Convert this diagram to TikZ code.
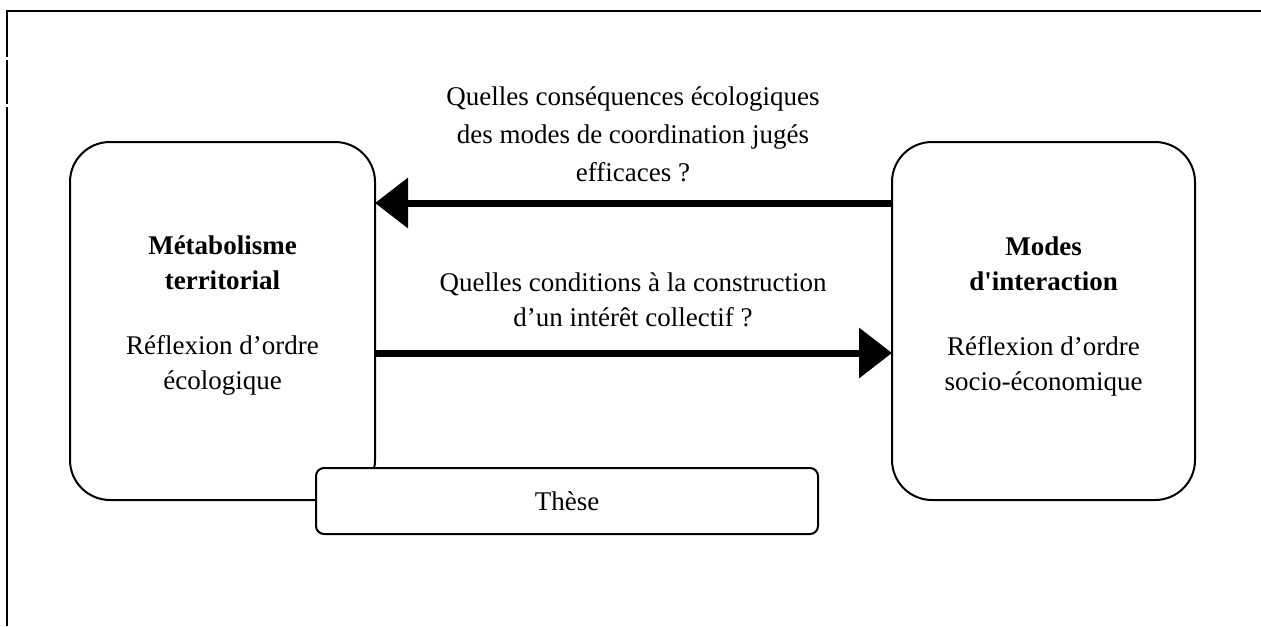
\documentclass[tikz,border=0pt]{standalone}
\usepackage{fontspec}
\setmainfont{Liberation Serif}
\usetikzlibrary{arrows.meta}
\newcommand\mlines[2]{\fontsize{13.5pt}{#1}\selectfont\setlength\tabcolsep{0pt}\begin{tabular}[t]{c}#2\end{tabular}}
\begin{document}
\begin{tikzpicture}[x=0.5pt,y=-0.5pt,
  frameline/.style={line width=1.25pt},
  bigbox/.style={draw, line width=1pt, rounded corners=20pt, minimum height=179pt, inner sep=0pt, outer sep=0pt},
  thesisbox/.style={draw, fill=white, line width=1pt, rounded corners=4pt, minimum width=251pt, minimum height=33pt, inner sep=0pt, outer sep=0pt, font=\fontsize{13.5pt}{16pt}\selectfont},
  label/.style={anchor=base, inner sep=0pt},
  bigarrow/.style={line width=3.5pt, -{Triangle[length=16.5pt 0 0,width=24.5pt 0 0]}}]
\useasboundingbox (0,0) rectangle (1261,626);
% frame
\draw[frameline] (7,626) -- (7,107);
\draw[frameline] (7,104) -- (7,60);
\draw[frameline] (7,57) -- (7,11) -- (1261,11);
% boxes
\node[bigbox, minimum width=152.5pt] (lbox) at (222.5,321) {};
\node[bigbox, minimum width=151.5pt] (rbox) at (1043.5,321) {};
\node[thesisbox] (these) at (567,501) {Thèse};
% box texts
\node[label] (ltext) at (222.5,254) {\mlines{17.5pt}{\textbf{Métabolisme}\\ \textbf{territorial}\\[15pt] Réflexion d’ordre\\ écologique}};
\node[label] (rtext) at (1043.5,255) {\mlines{17.5pt}{\textbf{Modes}\\ \textbf{d\textquotesingle interaction}\\[15pt] Réflexion d’ordre\\ socio-économique}};
% arrows
\coordinate (ya) at (0,203);
\coordinate (yb) at (0,353);
\draw[bigarrow] (rbox.west |- ya) -- (lbox.east |- ya);
\draw[bigarrow] (lbox.east |- yb) -- (rbox.west |- yb);
% arrow labels
\node[label] (q1) at (633,105) {\mlines{19pt}{Quelles conséquences écologiques\\ des modes de coordination jugés\\ efficaces ?}};
\node[label] (q2) at (633,291) {\mlines{17.5pt}{Quelles conditions à la construction\\ d’un intérêt collectif ?}};
\end{tikzpicture}
\end{document}
